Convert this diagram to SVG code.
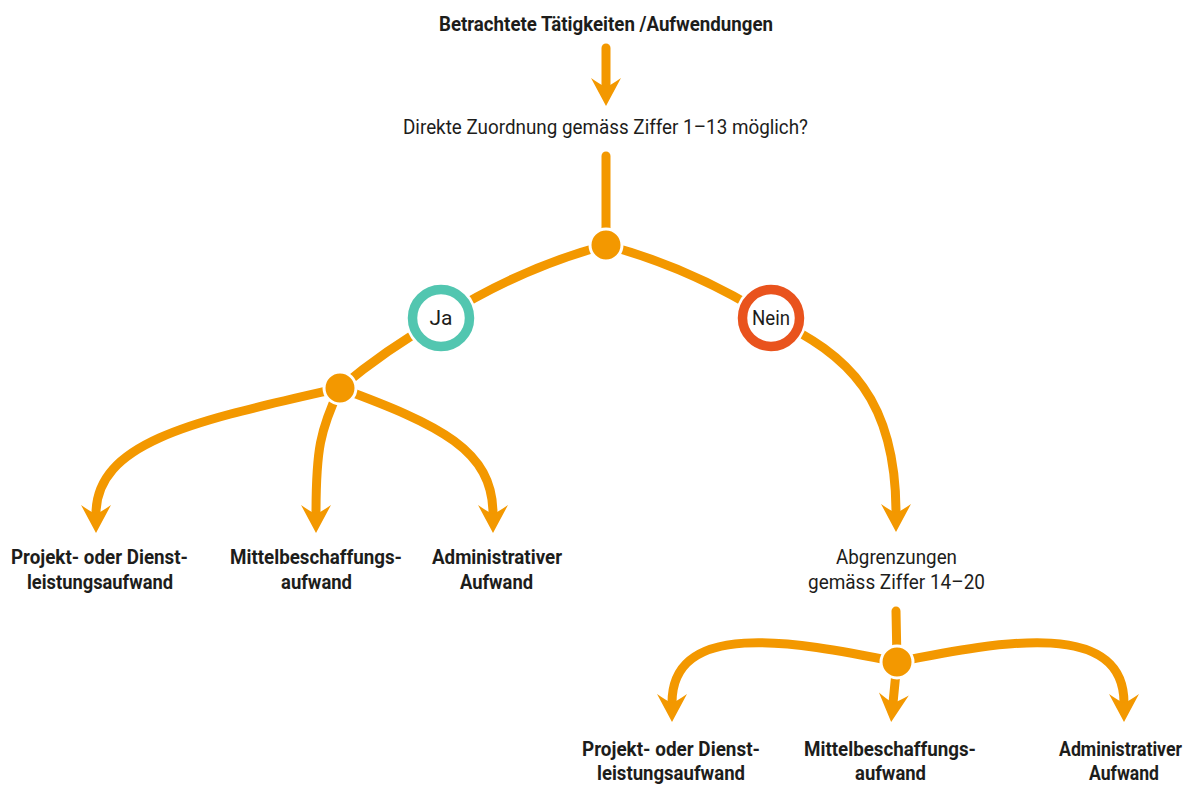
<svg xmlns="http://www.w3.org/2000/svg" width="1198" height="787" viewBox="0 0 1198 787">
  <style>
    .lbl { font-family: Roboto, "Liberation Sans", sans-serif; font-size: 21px; fill: #1d1d1b; text-anchor: middle; }
    .b { font-weight: 700; }
    .conn { fill: none; stroke: #f39800; stroke-width: 9; stroke-linecap: round; }
    .arr { marker-end: url(#head); }
    .dot { fill: #f39800; stroke: #ffffff; stroke-width: 3; }
    .ring-bg { fill: #ffffff; }
  </style>
  <defs>
    <marker id="head" markerUnits="userSpaceOnUse" orient="auto" refX="8" refY="0" markerWidth="40" markerHeight="40" overflow="visible">
      <path d="M 27 0 L -1 -15 Q 6 -5 8 0 Q 6 5 -1 15 Z" fill="#f39800"/>
    </marker>
  </defs>

  <rect width="1198" height="787" fill="#ffffff"/>

  <!-- connectors -->
  <g id="connectors">
    <path class="conn arr" d="M 606 48 L 606 87"/>
    <path class="conn" d="M 606 156 L 606 245"/>
    <path class="conn" d="M 606 245 Q 520 268 441 318 Q 385 350 340 388"/>
    <path class="conn" d="M 606 245 Q 692 268 771 318"/>
    <path class="conn arr" d="M 771 318 C 850 355 896 400 896 513"/>
    <path class="conn arr" d="M 340 388 C 200 420 96 440 96 514"/>
    <path class="conn arr" d="M 340 388 C 320 430 316 450 316 514"/>
    <path class="conn arr" d="M 340 388 C 440 425 493 450 493 514"/>
    <path class="conn" d="M 896 611 L 897 662"/>
    <path class="conn arr" d="M 897 662 C 790 640 672 620 672 703"/>
    <path class="conn arr" d="M 897 662 L 893 703"/>
    <path class="conn arr" d="M 897 662 C 1005 640 1124 620 1124 703"/>
  </g>

  <!-- junction dots -->
  <g id="junction-top"><circle class="dot" cx="606" cy="245" r="16"/></g>
  <g id="junction-ja"><circle class="dot" cx="340" cy="388" r="16"/></g>
  <g id="junction-nein"><circle class="dot" cx="897" cy="662" r="16"/></g>

  <!-- decision rings -->
  <g id="node-ja">
    <circle class="ring-bg" cx="441" cy="318" r="36"/>
    <circle cx="441" cy="318" r="28.5" fill="#ffffff" stroke="#52c6b0" stroke-width="9.5"/>
    <text class="lbl" x="441" y="325" font-size="19">Ja</text>
  </g>
  <g id="node-nein">
    <circle class="ring-bg" cx="771" cy="318" r="36"/>
    <circle cx="771" cy="318" r="28.5" fill="#ffffff" stroke="#e9531d" stroke-width="9.5"/>
    <text class="lbl" x="771" y="325" font-size="19" textLength="38" lengthAdjust="spacingAndGlyphs">Nein</text>
  </g>

  <!-- text nodes -->
  <g id="node-start">
    <text class="lbl b" x="606" y="31" textLength="334" lengthAdjust="spacingAndGlyphs">Betrachtete Tätigkeiten /Aufwendungen</text>
  </g>
  <g id="node-question">
    <text class="lbl" x="605.5" y="134" textLength="405" lengthAdjust="spacingAndGlyphs">Direkte Zuordnung gemäss Ziffer 1–13 möglich?</text>
  </g>

  <g id="node-ja-projekt">
    <text class="lbl b" x="99.5" y="564" textLength="177" lengthAdjust="spacingAndGlyphs">Projekt- oder Dienst-</text>
    <text class="lbl b" x="100" y="589" textLength="146" lengthAdjust="spacingAndGlyphs">leistungsaufwand</text>
  </g>
  <g id="node-ja-mittel">
    <text class="lbl b" x="316" y="564" textLength="172" lengthAdjust="spacingAndGlyphs">Mittelbeschaffungs-</text>
    <text class="lbl b" x="316.5" y="589" textLength="71" lengthAdjust="spacingAndGlyphs">aufwand</text>
  </g>
  <g id="node-ja-admin">
    <text class="lbl b" x="497" y="564" textLength="130" lengthAdjust="spacingAndGlyphs">Administrativer</text>
    <text class="lbl b" x="496.5" y="589" textLength="73" lengthAdjust="spacingAndGlyphs">Aufwand</text>
  </g>

  <g id="node-abgrenzung">
    <text class="lbl" x="896.5" y="564" textLength="121" lengthAdjust="spacingAndGlyphs">Abgrenzungen</text>
    <text class="lbl" x="896.5" y="589" textLength="177" lengthAdjust="spacingAndGlyphs">gemäss Ziffer 14–20</text>
  </g>

  <g id="node-nein-projekt">
    <text class="lbl b" x="671" y="756" textLength="178" lengthAdjust="spacingAndGlyphs">Projekt- oder Dienst-</text>
    <text class="lbl b" x="671" y="780" textLength="148" lengthAdjust="spacingAndGlyphs">leistungsaufwand</text>
  </g>
  <g id="node-nein-mittel">
    <text class="lbl b" x="890" y="756" textLength="172" lengthAdjust="spacingAndGlyphs">Mittelbeschaffungs-</text>
    <text class="lbl b" x="890.5" y="780" textLength="71" lengthAdjust="spacingAndGlyphs">aufwand</text>
  </g>
  <g id="node-nein-admin">
    <text class="lbl b" transform="translate(1120.5 756) scale(0.845 1)" x="0" y="0">Administrativer</text>
    <text class="lbl b" x="1124" y="780" textLength="70" lengthAdjust="spacingAndGlyphs">Aufwand</text>
  </g>
</svg>
